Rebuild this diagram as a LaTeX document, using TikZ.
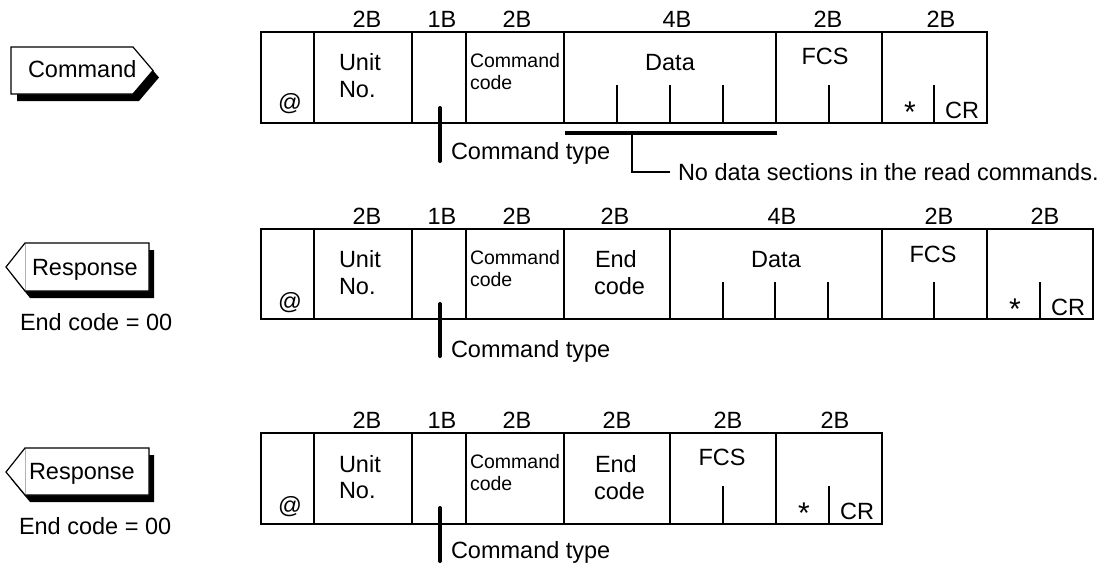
\documentclass[tikz,border=0pt]{standalone}
\usepackage{fontspec}
\setmainfont{Liberation Sans}
\begin{document}
\begin{tikzpicture}[x=1pt,y=-1pt,
  every node/.style={inner sep=0pt,outer sep=0pt,font=\fontsize{23.5}{28}\selectfont},
  small/.style={font=\fontsize{19.5}{23}\selectfont},
  starf/.style={font=\fontsize{30}{30}\selectfont},
  frame/.style={line width=1.2pt,draw=black},
  bar/.style={line width=4pt,line cap=round},
  uline/.style={line width=4pt},
  lbl/.style={anchor=base},
  lblw/.style={anchor=base west}]
\useasboundingbox (0,0) rectangle (1113,565);

% ---------------- tags ----------------
\fill[shift={(6,7)}] (11,47) -- (133,47) -- (153,70.5) -- (133,94) -- (11,94) -- cycle;
\draw[frame,fill=white] (11,47) -- (133,47) -- (153,70.5) -- (133,94) -- (11,94) -- cycle;
\node[lblw] (tagcmd) at (28,77) {Command};

\fill[shift={(5,7)}] (25,243) -- (149,243) -- (149,291) -- (25,291) -- (6,267) -- cycle;
\draw[frame,fill=white] (25,243) -- (149,243) -- (149,291) -- (25,291) -- (6,267) -- cycle;
\draw[gray!60,line width=0.6pt] (25,244) -- (25,290);
\node[lblw] (tagresA) at (32,275.5) {Response};
\node[lblw] (endA) at (20,330) {End code = 00};

\fill[shift={(5,7)}] (25,448) -- (149,448) -- (149,495) -- (25,495) -- (6,472) -- cycle;
\draw[frame,fill=white] (25,448) -- (149,448) -- (149,495) -- (25,495) -- (6,472) -- cycle;
\draw[gray!60,line width=0.6pt] (25,449) -- (25,494);
\node[lblw] (tagresB) at (29,479) {Response};
\node[lblw] (endB) at (19,534) {End code = 00};

% ---------------- row 1 (T=32) ----------------
\draw[frame] (261,32) rectangle (987,123);
\foreach \x in {314,412,466,564,776,882} \draw[frame] (\x,32) -- (\x,123);
\foreach \x in {617,670,723,829,934} \draw[frame] (\x,85) -- (\x,123);
\foreach \x/\t [count=\i] in {367/2B,442/1B,517/2B,677/4B,828/2B,941/2B}
  \node[lbl] (ha\i) at (\x,27) {\t};
\node (ata) at (290,104) {@};
\node[lblw] (unita) at (339,70) {Unit};
\node[lblw] (noa) at (339,97) {No.};
\node[lblw,small] (cmda) at (470,67.5) {Command};
\node[lblw,small] (codea) at (470,89.5) {code};
\node[lbl] (dataa) at (670,70) {Data};
\node[lbl] (fcsa) at (825,64) {FCS};
\node[lbl,starf] (stara) at (910,122) {*};
\node[lbl] (cra) at (962,118) {CR};
\node[lblw] (cta) at (451,159) {Command type};
\coordinate (cta-top) at (440,108);
\draw[bar] (cta-top) -- (cta-top |- 0,161);
\coordinate (dl) at (565,133);
\coordinate (dr) at (777,133);
\draw[uline] (dl) -- (dr);
\node[lblw] (nodata) at (678,180) {No data sections in the read commands.};
\coordinate (brk) at (632,133);
\coordinate (brkend) at (670,172);
\draw[frame] (brk) -- (brk |- brkend) -- (brkend);

% ---------------- row 2 (T=229) ----------------
\draw[frame] (261,229) rectangle (1093,319);
\foreach \x in {314,412,466,564,670,882,987} \draw[frame] (\x,229) -- (\x,319);
\foreach \x in {723,775,828,934,1040} \draw[frame] (\x,282) -- (\x,319);
\foreach \x/\t [count=\i] in {367/2B,442/1B,517/2B,615/2B,782/4B,939/2B,1045/2B}
  \node[lbl] (hb\i) at (\x,224) {\t};
\node (atb) at (290,303) {@};
\node[lblw] (unitb) at (339,267.5) {Unit};
\node[lblw] (nob) at (339,294.5) {No.};
\node[lblw,small] (cmdb) at (470,264.5) {Command};
\node[lblw,small] (codeb) at (470,286.5) {code};
\node[lblw] (endcb) at (595,267.5) {End};
\node[lblw] (endcb2) at (594,294.5) {code};
\node[lbl] (datab) at (776,267) {Data};
\node[lbl] (fcsb) at (933,262) {FCS};
\node[lbl,starf] (starb) at (1015,319) {*};
\node[lbl] (crb) at (1068,315) {CR};
\node[lblw] (ctb) at (451,357) {Command type};
\coordinate (ctb-top) at (440,304);
\draw[bar] (ctb-top) -- (ctb-top |- 0,356);

% ---------------- row 3 (T=433) ----------------
\draw[frame] (261,433) rectangle (882,524);
\foreach \x in {314,412,466,564,670,776} \draw[frame] (\x,433) -- (\x,524);
\foreach \x in {723,829} \draw[frame] (\x,486) -- (\x,524);
\foreach \x/\t [count=\i] in {367/2B,442/1B,517/2B,617/2B,728/2B,835/2B}
  \node[lbl] (hc\i) at (\x,428) {\t};
\node (atc) at (290,507) {@};
\node[lblw] (unitc) at (339,472) {Unit};
\node[lblw] (noc) at (339,498) {No.};
\node[lblw,small] (cmdc) at (470,468) {Command};
\node[lblw,small] (codec) at (470,490) {code};
\node[lblw] (endcc) at (595,472) {End};
\node[lblw] (endcc2) at (594,499) {code};
\node[lbl] (fcsc) at (722,465) {FCS};
\node[lbl,starf] (starc) at (804,523) {*};
\node[lbl] (crc) at (857,519) {CR};
\node[lblw] (ctc) at (451,558) {Command type};
\coordinate (ctc-top) at (440,508);
\draw[bar] (ctc-top) -- (ctc-top |- 0,561);
\end{tikzpicture}
\end{document}
